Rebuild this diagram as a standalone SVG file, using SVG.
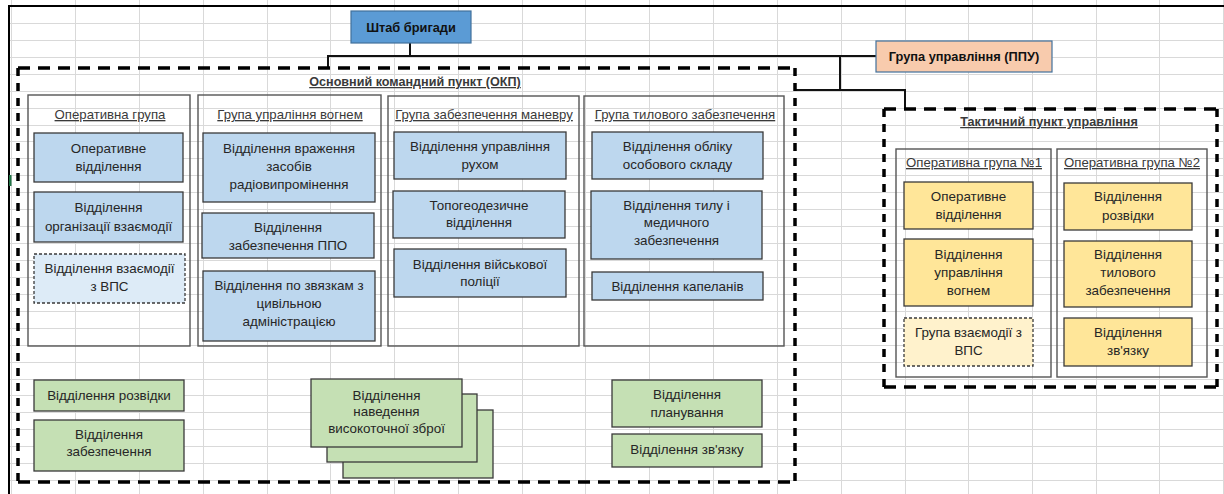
<svg xmlns="http://www.w3.org/2000/svg" width="1224" height="494" viewBox="0 0 1224 494">
  <style>
    text { font-family: "Liberation Sans", Arial, sans-serif; fill: #262626; text-anchor: middle; }
    .t { font-size: 13.4px; }
    .bt { font-size: 12.8px; font-weight: bold; fill: #111; }
    .ut { font-size: 13.2px; fill: #3a3a3a; text-decoration: underline; }
    .ub { font-size: 12.6px; font-weight: bold; fill: #3a3a3a; text-decoration: underline; }
    .grid { stroke: #d9d9d9; stroke-width: 1; fill: none; }
    .frame { stroke: #000; stroke-width: 2; fill: none; }
    .conn { stroke: #111; stroke-width: 2; fill: none; }
    .dh { stroke: #000; stroke-width: 3.5; stroke-dasharray: 12 8; fill: none; }
    .dv { stroke: #000; stroke-width: 3.5; stroke-dasharray: 8 7; fill: none; }
    .grp { fill: none; stroke: #555; stroke-width: 1.4; }
    .box { stroke: #3a3a3a; stroke-width: 1.3; }
    .blue { fill: #bdd7ee; }
    .blue-l { fill: #ddebf7; stroke-dasharray: 3 2; }
    .yel { fill: #ffe699; }
    .yel-l { fill: #fff2cc; stroke-dasharray: 3 2; }
    .grn { fill: #c5e0b4; }
  </style>

  <rect width="1224" height="494" fill="#fff"/>

  <!-- worksheet cell grid -->
  <g id="sheet-grid">
    <path class="grid" d="M11.5 0V494M75.5 0V494M139.5 0V494M203.5 0V494M267.5 0V494M330.5 0V494M394.5 0V494M458.5 0V494M522.5 0V494M585.5 0V494M649.5 0V494M713.5 0V494M777.5 0V494M841.5 0V494M905.5 0V494M968.5 0V494M1032.5 0V494M1096.5 0V494M1159.5 0V494M1223.5 0V494"/>
    <path class="grid" d="M8 23.5H1224M8 40.5H1224M8 57.5H1224M8 74.5H1224M8 91.5H1224M8 108.5H1224M8 125.5H1224M8 141.5H1224M8 158.5H1224M8 175.5H1224M8 192.5H1224M8 209.5H1224M8 226.5H1224M8 243.5H1224M8 260.5H1224M8 277.5H1224M8 294.5H1224M8 311.5H1224M8 328.5H1224M8 345.5H1224M8 362.5H1224M8 379.5H1224M8 395.5H1224M8 412.5H1224M8 429.5H1224M8 446.5H1224M8 463.5H1224M8 480.5H1224"/>
    <path class="frame" d="M9 494V6H1224"/>
    <rect x="9" y="175" width="2.5" height="11" fill="#217346"/>
  </g>

  <!-- connectors -->
  <g id="connectors">
    <path class="conn" d="M410 43V56"/>
    <path class="conn" d="M328 68V56H876"/>
    <path class="conn" d="M840 56V90"/>
    <path class="conn" d="M796 90H905V109"/>
  </g>

  <!-- brigade HQ -->
  <g id="shtab">
    <rect x="351" y="11" width="120" height="32" fill="#5b9bd5" stroke="#41719c" stroke-width="1.2"/>
    <text class="bt" x="411" y="31.5">Штаб бригади</text>
  </g>

  <!-- forward control group -->
  <g id="ppu">
    <rect x="876" y="41" width="176" height="31" fill="#f8cbad" stroke="#41719c" stroke-width="1.2"/>
    <text class="bt" x="964" y="61">Група управління (ППУ)</text>
  </g>

  <!-- main command post -->
  <g id="okp">
    <path class="dh" d="M18 68H795M18 482H795"/>
    <path class="dv" d="M18 68V482M795 68V482"/>
    <text class="ub" x="415" y="86">Основний командний пункт (ОКП)</text>
  </g>

  <g id="okp-operational">
    <rect class="grp" x="28" y="95" width="162" height="251"/>
    <text class="ut" x="110" y="119">Оперативна група</text>
    <rect class="box blue" x="34" y="133" width="149" height="49"/>
    <text class="t"><tspan x="108.5" y="153">Оперативне</tspan><tspan x="108.5" y="171">відділення</tspan></text>
    <rect class="box blue" x="34" y="192" width="149" height="50"/>
    <text class="t"><tspan x="108.5" y="212">Відділення</tspan><tspan x="108.5" y="230.5">організації взаємодії</tspan></text>
    <rect class="box blue-l" x="34" y="254" width="151" height="49"/>
    <text class="t"><tspan x="109.5" y="273">Відділення взаємодії</tspan><tspan x="109.5" y="291">з ВПС</tspan></text>
  </g>

  <g id="okp-fire">
    <rect class="grp" x="198" y="95" width="183" height="251"/>
    <text class="ut" x="290" y="119">Група упраління вогнем</text>
    <rect class="box blue" x="203" y="133" width="172" height="69"/>
    <text class="t"><tspan x="289" y="152.5">Відділення враження</tspan><tspan x="289" y="170.5">засобів</tspan><tspan x="289" y="188.5">радіовипромінення</tspan></text>
    <rect class="box blue" x="202" y="213" width="172" height="45"/>
    <text class="t"><tspan x="288" y="231.5">Відділення</tspan><tspan x="288" y="250">забезпечення ППО</tspan></text>
    <rect class="box blue" x="203" y="271" width="172" height="70"/>
    <text class="t"><tspan x="289" y="289.5">Відділення по звязкам з</tspan><tspan x="289" y="307.5">цивільною</tspan><tspan x="289" y="325.5">адміністрацією</tspan></text>
  </g>

  <g id="okp-maneuver">
    <rect class="grp" x="388" y="96" width="191" height="250"/>
    <text class="ut" x="484" y="119">Група забезпечення маневру</text>
    <rect class="box blue" x="394" y="132" width="172" height="47"/>
    <text class="t"><tspan x="480" y="150.5">Відділення управління</tspan><tspan x="480" y="168.5">рухом</tspan></text>
    <rect class="box blue" x="393" y="191" width="172" height="47"/>
    <text class="t"><tspan x="479" y="209.5">Топогеодезичне</tspan><tspan x="479" y="227">відділення</tspan></text>
    <rect class="box blue" x="394" y="249" width="172" height="48"/>
    <text class="t"><tspan x="480" y="268.5">Відділення військової</tspan><tspan x="480" y="286">поліції</tspan></text>
  </g>

  <g id="okp-rear">
    <rect class="grp" x="584" y="96" width="200" height="250"/>
    <text class="ut" x="685" y="119">Група тилового забезпечення</text>
    <rect class="box blue" x="592" y="132" width="171" height="47"/>
    <text class="t"><tspan x="677.5" y="150.5">Відділення обліку</tspan><tspan x="677.5" y="168.5">особового складу</tspan></text>
    <rect class="box blue" x="591" y="191" width="171" height="68"/>
    <text class="t"><tspan x="676.5" y="209.5">Відділення тилу і</tspan><tspan x="676.5" y="227">медичного</tspan><tspan x="676.5" y="245">забезпечення</tspan></text>
    <rect class="box blue" x="592" y="272" width="171" height="28"/>
    <text class="t" x="677.5" y="290.5">Відділення капеланів</text>
  </g>

  <g id="okp-recon">
    <rect class="box grn" x="34" y="380" width="150" height="31"/>
    <text class="t" x="109" y="399.5">Відділення розвідки</text>
  </g>

  <g id="okp-support">
    <rect class="box grn" x="34" y="420" width="150" height="51"/>
    <text class="t"><tspan x="109" y="438.5">Відділення</tspan><tspan x="109" y="456">забезпечення</tspan></text>
  </g>

  <g id="okp-precision">
    <rect class="box grn" x="343" y="410" width="150" height="68"/>
    <rect class="box grn" x="327" y="394" width="150" height="68"/>
    <rect class="box grn" x="311" y="379" width="151" height="68"/>
    <text class="t"><tspan x="386.5" y="399.5">Відділення</tspan><tspan x="386.5" y="416">наведення</tspan><tspan x="386.5" y="432.5">високоточної зброї</tspan></text>
  </g>

  <g id="okp-planning">
    <rect class="box grn" x="612" y="380" width="150" height="47"/>
    <text class="t"><tspan x="687" y="399">Відділення</tspan><tspan x="687" y="416.5">планування</tspan></text>
  </g>

  <g id="okp-signal">
    <rect class="box grn" x="612" y="434" width="150" height="33"/>
    <text class="t" x="687" y="453.5">Відділення зв'язку</text>
  </g>

  <!-- tactical command post -->
  <g id="tpu">
    <path class="dh" d="M884 109H1217M884 387H1217"/>
    <path class="dv" d="M884 109V387M1217 109V387"/>
    <text class="ub" x="1049" y="126">Тактичний пункт управління</text>
  </g>

  <g id="tpu-group-1">
    <rect class="grp" x="896" y="149" width="155" height="228"/>
    <text class="ut" x="974" y="167">Оперативна група №1</text>
    <rect class="box yel" x="904" y="182" width="129" height="47"/>
    <text class="t"><tspan x="968.5" y="201">Оперативне</tspan><tspan x="968.5" y="219">відділення</tspan></text>
    <rect class="box yel" x="904" y="239" width="129" height="67"/>
    <text class="t"><tspan x="968.5" y="258.5">Відділення</tspan><tspan x="968.5" y="276.5">управління</tspan><tspan x="968.5" y="294.5">вогнем</tspan></text>
    <rect class="box yel-l" x="904" y="318" width="129" height="48"/>
    <text class="t"><tspan x="968.5" y="337">Група взаємодії з</tspan><tspan x="968.5" y="355">ВПС</tspan></text>
  </g>

  <g id="tpu-group-2">
    <rect class="grp" x="1057" y="149" width="150" height="228"/>
    <text class="ut" x="1132" y="167">Оперативна група №2</text>
    <rect class="box yel" x="1064" y="183" width="128" height="47"/>
    <text class="t"><tspan x="1128" y="201">Відділення</tspan><tspan x="1128" y="219.5">розвідки</tspan></text>
    <rect class="box yel" x="1064" y="241" width="128" height="66"/>
    <text class="t"><tspan x="1128" y="258.5">Відділення</tspan><tspan x="1128" y="277">тилового</tspan><tspan x="1128" y="295">забезпечення</tspan></text>
    <rect class="box yel" x="1064" y="318" width="128" height="48"/>
    <text class="t"><tspan x="1128" y="337">Відділення</tspan><tspan x="1128" y="355">зв'язку</tspan></text>
  </g>
</svg>
